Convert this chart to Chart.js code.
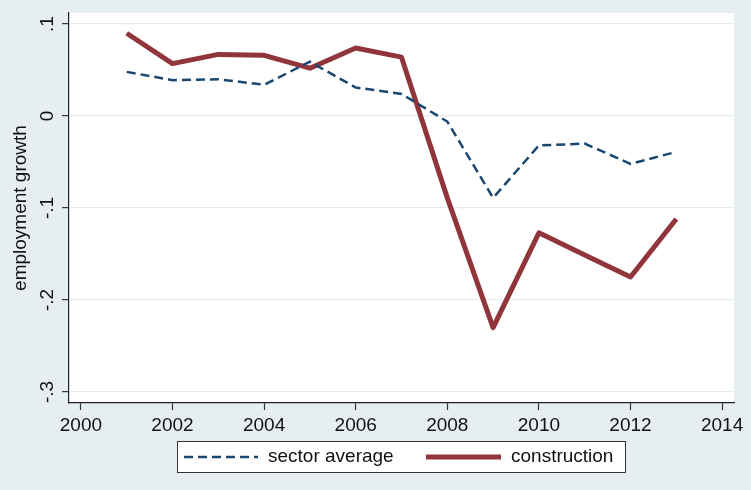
<!DOCTYPE html>
<html>
<head>
<meta charset="utf-8">
<script src="https://cdn.jsdelivr.net/npm/chart.js@4/dist/chart.umd.min.js"></script>
<style>
  html, body { margin: 0; padding: 0; background: #e7eef1; }
  canvas { display: block; }
</style>
</head>
<body>
<canvas id="chart" width="751" height="490"></canvas>
<script>
// values
const years = [2001, 2002, 2003, 2004, 2005, 2006, 2007, 2008, 2009, 2010, 2011, 2012, 2013];
const sectorAverage = [0.048, 0.039, 0.040, 0.034, 0.059, 0.031, 0.024, -0.006, -0.089, -0.032, -0.030, -0.052, -0.039];
const construction = [0.090, 0.057, 0.067, 0.066, 0.052, 0.074, 0.064, -0.089, -0.230, -0.127, -0.151, -0.175, -0.112];
const xTicks = [2000, 2002, 2004, 2006, 2008, 2010, 2012, 2014];
const yTicks = [-0.3, -0.2, -0.1, 0, 0.1];
const yTickLabels = ['-.3', '-.2', '-.1', '0', '.1'];

const FONT = '"Liberation Sans", Arial, sans-serif';
const NAVY = '#1a476f';
const MAROON = '#90353b';

const toPoints = (vals) => vals.map((v, i) => ({ x: years[i], y: v }));

// background + white plot region
const backgroundPlugin = {
    id: 'background',
    beforeDraw(chart) {
        const { ctx, chartArea } = chart;
        ctx.save();
        ctx.fillStyle = '#e7eef1';
        ctx.fillRect(0, 0, chart.width, chart.height);
        ctx.fillStyle = '#ffffff';
        ctx.fillRect(chartArea.left, chartArea.top, chartArea.right - chartArea.left, chartArea.bottom - chartArea.top);
        ctx.restore();
    }
};

// rotated y tick labels, Stata style
const yLabelsPlugin = {
    id: 'yLabels',
    afterDraw(chart) {
        const { ctx } = chart;
        const y = chart.scales.y;
        ctx.save();
        ctx.font = '19px ' + FONT;
        ctx.fillStyle = '#111';
        ctx.textAlign = 'center';
        ctx.textBaseline = 'middle';
        yTicks.forEach((v, i) => {
            ctx.save();
            ctx.translate(48, y.getPixelForValue(v));
            ctx.rotate(-Math.PI / 2);
            ctx.fillText(yTickLabels[i], 0, 0);
            ctx.restore();
        });
        ctx.restore();
    }
};

// boxed legend below the plot
const legendBoxPlugin = {
    id: 'legendBox',
    afterDraw(chart) {
        const { ctx } = chart;
        const ds = chart.data.datasets;
        ctx.save();
        ctx.fillStyle = '#ffffff';
        ctx.fillRect(177, 441, 449, 32);
        ctx.strokeStyle = '#333';
        ctx.lineWidth = 1;
        ctx.strokeRect(177.5, 441.5, 448, 31);

        const cy = 457;
        const items = [
            { x0: 184, x1: 258, tx: 268 },
            { x0: 426, x1: 501, tx: 511 }
        ];
        items.forEach((it, i) => {
            ctx.beginPath();
            ctx.strokeStyle = ds[i].borderColor;
            ctx.lineWidth = ds[i].borderWidth;
            ctx.setLineDash(ds[i].borderDash || []);
            ctx.lineCap = 'butt';
            ctx.moveTo(it.x0, cy);
            ctx.lineTo(it.x1, cy);
            ctx.stroke();
            ctx.setLineDash([]);
            ctx.font = '19px ' + FONT;
            ctx.fillStyle = '#111';
            ctx.textAlign = 'left';
            ctx.textBaseline = 'middle';
            ctx.fillText(ds[i].label, it.tx, cy);
        });
        ctx.restore();
    }
};

new Chart(document.getElementById('chart'), {
    type: 'line',
    data: {
        datasets: [{
            label: 'sector average',
            data: toPoints(sectorAverage),
            borderColor: NAVY,
            borderWidth: 2.5,
            borderDash: [9, 5],
            pointRadius: 0,
            tension: 0,
            fill: false
        }, {
            label: 'construction',
            data: toPoints(construction),
            borderColor: MAROON,
            borderWidth: 5,
            borderJoinStyle: 'round',
            pointRadius: 0,
            tension: 0,
            fill: false
        }]
    },
    options: {
        responsive: false,
        devicePixelRatio: 1,
        animation: false,
        layout: { padding: { top: 13, right: 17, left: 0, bottom: 0 } },
        plugins: {
            legend: { display: false },
            tooltip: { enabled: false }
        },
        scales: {
            x: {
                type: 'linear',
                min: 1999.74,
                max: 2014.26,
                afterBuildTicks: (scale) => { scale.ticks = xTicks.map(v => ({ value: v })); },
                afterFit: (scale) => { scale.height = 87; },
                border: { display: true, color: '#222', width: 1.2 },
                grid: { drawOnChartArea: false, drawTicks: true, tickLength: 7, tickColor: '#333', tickWidth: 1.2 },
                ticks: {
                    maxRotation: 0,
                    autoSkip: false,
                    padding: 4,
                    color: '#111',
                    font: { family: FONT, size: 19 },
                    callback: (v) => String(v)
                }
            },
            y: {
                type: 'linear',
                min: -0.312,
                max: 0.112,
                afterBuildTicks: (scale) => { scale.ticks = yTicks.map(v => ({ value: v })); },
                afterFit: (scale) => { scale.width = 69; },
                border: { display: true, color: '#222', width: 1.2 },
                grid: { color: '#e4ecef', lineWidth: 1.2, drawTicks: true, tickLength: 7, tickColor: '#333', tickWidth: 1.2 },
                ticks: { display: false },
                title: {
                    display: true,
                    text: 'employment growth',
                    color: '#111',
                    font: { family: FONT, size: 19 },
                    padding: { top: 9, bottom: 0 }
                }
            }
        }
    },
    plugins: [backgroundPlugin, yLabelsPlugin, legendBoxPlugin]
});
</script>
</body>
</html>
